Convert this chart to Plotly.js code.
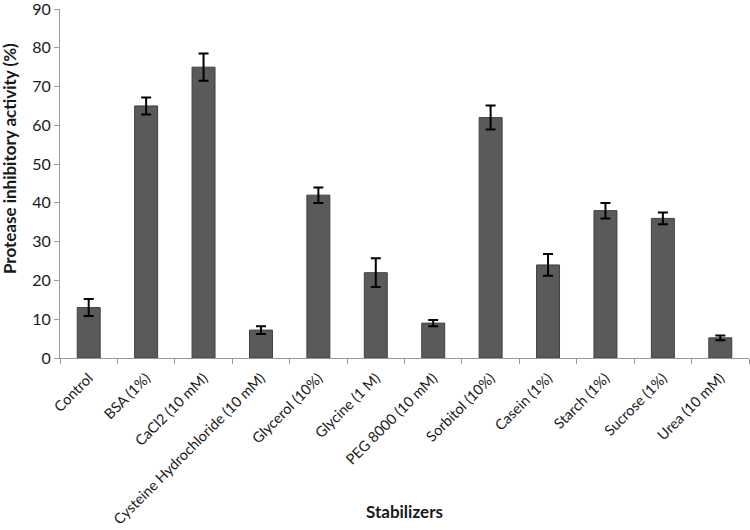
<!DOCTYPE html>
<html>
<head>
<meta charset="utf-8">
<script src="https://cdn.plot.ly/plotly-3.0.1.min.js"></script>
<style>html,body{margin:0;padding:0;background:#fff;}#chart{width:750px;height:530px;}</style>
</head>
<body>
<div id="chart"></div>
<script>
const categories = ["Control", "BSA (1%)", "CaCl2 (10 mM)", "Cysteine Hydrochloride (10 mM)", "Glycerol (10%)", "Glycine (1 M)", "PEG 8000 (10 mM)", "Sorbitol (10%)", "Casein (1%)", "Starch (1%)", "Sucrose (1%)", "Urea (10 mM)"];
const values = [13, 65, 75, 7.2, 42, 22, 9, 62, 24, 38, 36, 5.2];
const errors = [2.2, 2.2, 3.5, 1.0, 2.0, 3.7, 0.8, 3.1, 2.8, 2.0, 1.5, 0.6];
const yTicks = [0, 10, 20, 30, 40, 50, 60, 70, 80, 90];

const font = "Lato, 'Open Sans', sans-serif";

Plotly.newPlot('chart', [{
  type: 'bar',
  x: categories,
  y: values,
  width: 0.4,
  marker: {color: '#5a5a5a', line: {color: '#404040', width: 1}},
  error_y: {type: 'data', array: errors, visible: true, color: '#000', thickness: 2, width: 5},
  hoverinfo: 'none'
}], {
  width: 750, height: 530,
  margin: {l: 60, r: 1, t: 9, b: 172, autoexpand: false},
  paper_bgcolor: '#fff', plot_bgcolor: '#fff',
  showlegend: false,
  font: {family: font, color: '#1a1a1a'},
  xaxis: {
    type: 'category',
    automargin: false,
    tickangle: -45,
    ticklabelstandoff: 5,
    tickfont: {size: 14.5, family: font, color: '#1a1a1a'},
    showline: true, linecolor: '#999', linewidth: 1,
    ticks: 'outside', tickson: 'boundaries', ticklen: 5, tickcolor: '#999',
    showgrid: false
  },
  yaxis: {
    range: [0, 90],
    automargin: false,
    tickvals: yTicks,
    ticklabeloverflow: 'allow',
    tickfont: {size: 16, family: font, color: '#1a1a1a'},
    showline: true, linecolor: '#999', linewidth: 1,
    ticks: 'outside', ticklen: 5, tickcolor: '#999',
    showgrid: false, zeroline: false
  },
  annotations: [{
    text: 'Stabilizers', xref: 'paper', yref: 'paper', x: 0.5, y: -0.44, xanchor: 'center', yanchor: 'middle',
    showarrow: false, font: {size: 17, family: font, weight: 'bold', color: '#1a1a1a'}
  }, {
    text: 'Protease inhibitory activity (%)', xref: 'paper', yref: 'paper', x: -0.074, y: 0.57, xanchor: 'center', yanchor: 'middle',
    textangle: -90, showarrow: false, font: {size: 17, family: font, weight: 'bold', color: '#1a1a1a'}
  }]
}, {displayModeBar: false, staticPlot: true});
</script>
</body>
</html>
